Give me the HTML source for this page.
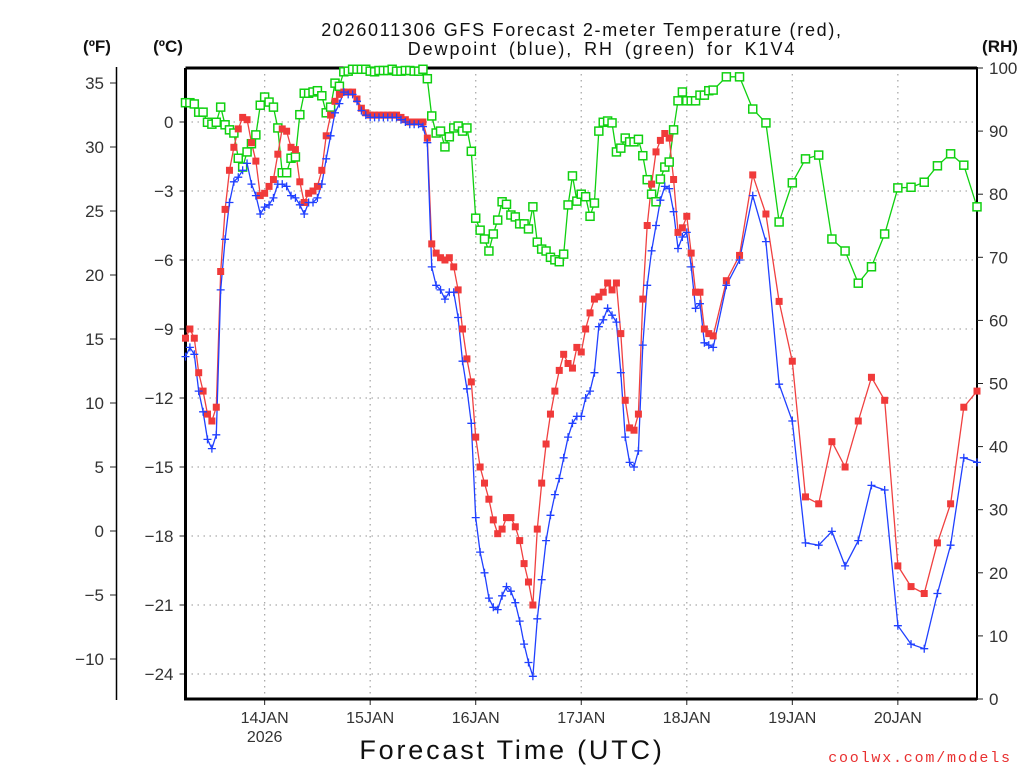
<!DOCTYPE html>
<html><head><meta charset="utf-8"><style>
html,body{margin:0;padding:0;background:#fff;}
svg{display:block;font-family:"Liberation Sans",sans-serif;}
</style></head><body>
<svg id="chart" width="1024" height="768" viewBox="0 0 1024 768" xmlns="http://www.w3.org/2000/svg">
<g id="grid"></g>
<g id="axes"></g>
<g id="series"></g>
<text x="582" y="36" text-anchor="middle" font-size="18" fill="#111" letter-spacing="1.7">2026011306 GFS Forecast 2-meter Temperature (red),</text>
<text x="602" y="55" text-anchor="middle" font-size="18" fill="#111" letter-spacing="1.9" word-spacing="4">Dewpoint (blue), RH (green) for K1V4</text>
<text x="97" y="52" text-anchor="middle" font-size="17" font-weight="bold" fill="#111">(ºF)</text>
<text x="168" y="52" text-anchor="middle" font-size="17" font-weight="bold" fill="#111">(ºC)</text>
<text x="1000" y="52" text-anchor="middle" font-size="17" font-weight="bold" fill="#111">(RH)</text>
<text x="512" y="759" text-anchor="middle" font-size="27" fill="#111" letter-spacing="2.8">Forecast Time (UTC)</text>
<text x="920" y="762" text-anchor="middle" font-size="15" fill="#e83030" font-family="Liberation Mono, monospace" letter-spacing="1.8">coolwx.com/models</text>
</svg>
<script>
const tempC = [-9.4,-9.0,-9.4,-10.9,-11.7,-12.7,-13.0,-12.4,-6.5,-3.8,-2.1,-1.1,-0.3,0.2,0.1,-0.9,-1.7,-3.2,-3.1,-2.8,-2.5,-1.4,-0.3,-0.4,-1.1,-1.2,-2.6,-3.5,-3.1,-3.0,-2.8,-2.1,-0.6,0.3,0.9,1.2,1.3,
1.3,1.3,1.0,0.6,0.4,0.3,0.3,0.3,0.3,0.3,0.3,0.3,0.2,0.1,0.0,0.0,0.0,0.0,
-0.7,-5.3,-5.7,-5.9,-6.0,-5.9,-6.3,-7.3,-9.0,-10.3,-11.3,-13.7,-15.0,-15.7,-16.4,-17.3,-17.9,-17.7,-17.2,-17.2,-17.6,-18.2,-19.2,-20.0,-21.0,-17.7,-15.7,-14.0,-12.7,-11.7,-10.8,-10.1,-10.5,-10.7,-9.8,-10.0,-9.0,-8.3,-7.7,-7.6,-7.4,-7.0,-7.3,-7.0,-9.2,-12.1,-13.3,-13.4,-12.7,-7.7,-4.5,-2.7,-1.3,-0.8,-0.5,-0.7,-2.5,-4.8,-4.6,-4.1,-5.7,-7.4,-7.4,-9.0,
-9.2,-9.3,
-6.9,-5.8,-2.3,-4.0,-7.8,-10.4,-16.3,-16.6,-13.9,-15.0,-13.0,-11.1,-12.1,-19.3,-20.2,-20.5,-18.3,-16.6,-12.4,-11.7];
const dewC = [-10.2,-9.8,-10.1,-11.7,-12.6,-13.8,-14.2,-13.6,-7.3,-5.1,-3.5,-2.6,-2.4,-2.1,-1.8,-2.7,-3.2,-4.0,-3.7,-3.6,-3.3,-2.7,-2.7,-2.8,-3.2,-3.3,-3.6,-4.0,-3.5,-3.5,-3.3,-2.7,-1.6,-0.6,0.4,0.8,1.3,
1.2,1.2,0.9,0.5,0.3,0.2,0.2,0.2,0.2,0.2,0.2,0.2,0.1,0.0,-0.1,-0.1,-0.1,-0.2,
-0.9,-6.3,-7.1,-7.3,-7.7,-7.4,-7.4,-8.5,-10.4,-11.6,-13.1,-17.2,-18.7,-19.6,-20.7,-21.1,-21.2,-20.6,-20.2,-20.4,-20.9,-21.7,-22.7,-23.5,-24.1,-21.6,-19.9,-18.2,-17.1,-16.2,-15.5,-14.6,-13.7,-13.1,-12.8,-12.8,-12.0,-11.7,-10.9,-8.9,-8.6,-8.1,-8.4,-8.7,-10.9,-13.7,-14.8,-15.0,-14.3,-9.7,-7.1,-5.6,-4.5,-3.4,-2.8,-2.9,-3.9,-5.5,-5.0,-4.8,-6.3,-8.1,-7.9,-9.6,
-9.7,-9.8,
-7.1,-6.0,-3.2,-5.2,-11.4,-13.0,-18.3,-18.4,-17.8,-19.3,-18.2,-15.8,-16.0,-21.9,-22.7,-22.9,-20.5,-18.4,-14.6,-14.8];
const rhPct = [94.5,94.5,94.3,93.0,93.0,91.4,91.1,91.4,93.8,91.0,90.2,89.7,85.7,84.3,86.7,88.0,89.4,94.1,95.4,94.6,93.8,90.5,83.4,83.4,85.7,85.9,92.6,96.0,96.0,96.2,96.4,95.6,92.9,93.8,97.6,97.1,99.4,
99.5,99.8,99.8,99.8,99.8,99.5,99.4,99.6,99.6,99.6,99.8,99.5,99.5,99.6,99.6,99.5,99.5,99.8,
98.3,92.4,89.7,90.0,87.5,89.1,90.5,90.8,90.0,90.5,86.8,76.2,74.3,72.9,71.0,73.7,75.9,78.8,78.4,76.7,76.4,75.3,75.3,74.5,78.0,72.4,71.3,71.0,70.0,69.6,69.3,70.5,78.3,82.9,78.9,80.0,79.6,76.5,78.6,90.0,91.4,91.6,91.3,86.7,87.3,88.9,88.3,88.3,88.7,86.1,82.3,80.0,78.8,82.4,84.3,85.1,90.2,94.8,96.2,94.8,94.8,94.8,95.7,95.7,
96.4,96.5,
98.6,98.6,93.5,91.3,75.6,81.8,85.6,86.2,72.9,71.0,65.9,68.5,73.7,81.0,81.1,81.9,84.5,86.4,84.6,78.0];
const fTicks = [35,30,25,20,15,10,5,0,-5,-10];
const cTicks = [0,-3,-6,-9,-12,-15,-18,-21,-24];
const rhTicks = [100,90,80,70,60,50,40,30,20,10,0];
const dayLabels = ["14JAN","15JAN","16JAN","17JAN","18JAN","19JAN","20JAN"];
const dayHours = [18,42,66,90,114,138,162];

const NS="http://www.w3.org/2000/svg";
const X0=185.5, X1=977, Y0=68, Y1=699;
const hours=[];
for(let h=0;h<=120;h++) hours.push(h);
for(let h=123;h<=180;h+=3) hours.push(h);
function xh(h){return X0+(X1-X0)*h/180;}
function yc(c){return 122-23*c;}
function yf(f){return 83+(35-f)*12.8;}
function yr(r){return Y1-(Y1-Y0)*r/100;}
function mk(tag,attrs,parent){const e=document.createElementNS(NS,tag);for(const k in attrs)e.setAttribute(k,attrs[k]);parent.appendChild(e);return e;}
const grid=document.getElementById('grid'), axes=document.getElementById('axes'), series=document.getElementById('series');
const txt="#333";
cTicks.forEach(c=>{const y=yc(c);
 const g=mk('line',{x1:X0,x2:X1,y1:y,y2:y,stroke:'#aaa','stroke-width':1.3,'stroke-dasharray':'1.5 4.5'},grid);
 
 
 mk('line',{x1:X0-6,x2:X0,y1:y,y2:y,stroke:'#222','stroke-width':1},axes);
 const t=mk('text',{x:X0-12,y:y+6,'text-anchor':'end','font-size':17,fill:txt},axes);
 t.textContent=(c<0?'\u2212'+(-c):c);
 
 
});
dayHours.forEach((h,i)=>{const x=xh(h);
 const g=mk('line',{x1:x,x2:x,y1:Y0,y2:Y1,stroke:'#aaa','stroke-width':1.3,'stroke-dasharray':'1.5 4.5'},grid);
 
 
 mk('line',{x1:x,x2:x,y1:Y1,y2:Y1+6,stroke:'#222','stroke-width':1},axes);
 const t=mk('text',{x:x,y:Y1+24,'text-anchor':'middle','font-size':16,fill:txt},axes);
 t.textContent=dayLabels[i];
 
 
});
const yr2=mk('text',{x:xh(dayHours[0]),y:Y1+43,'text-anchor':'middle','font-size':16,fill:txt},axes);
yr2.textContent='2026';


const fr=mk('path',{d:`M${X0},${Y0} H${X1} M${X0},${Y0} V${Y1} H${X1}`,stroke:'#000','stroke-width':3,fill:'none'},axes);


const ra=mk('line',{x1:X1,x2:X1,y1:Y0-1,y2:Y1+1,stroke:'#000','stroke-width':2},axes);


const fa=mk('line',{x1:116.5,x2:116.5,y1:67,y2:700,stroke:'#000','stroke-width':1.5},axes);


fTicks.forEach(f=>{const y=yf(f);
 mk('line',{x1:110,x2:116,y1:y,y2:y,stroke:'#222','stroke-width':1},axes);
 const t=mk('text',{x:104,y:y+6,'text-anchor':'end','font-size':17,fill:txt},axes);
 t.textContent=(f<0?'\u2212'+(-f):f);
 
 
});
rhTicks.forEach(r=>{const y=yr(r);
 mk('line',{x1:X1,x2:X1+6,y1:y,y2:y,stroke:'#222','stroke-width':1},axes);
 const t=mk('text',{x:989,y:y+6,'text-anchor':'start','font-size':17,fill:txt},axes);
 t.textContent=r;
 
 
});
function line(vals,yfn,color,name){
 const pts=vals.map((v,i)=>xh(hours[i]).toFixed(1)+','+yfn(v).toFixed(1)).join(' ');
 const p=mk('polyline',{points:pts,fill:'none',stroke:color,'stroke-width':1.3},series);
 
 
}
line(rhPct,yr,'#10d010','rh');
line(tempC,yc,'#f04040','temperature');
line(dewC,yc,'#2040ff','dewpoint');
rhPct.forEach((v,i)=>{const x=xh(hours[i]),y=yr(v);
 const r=mk('rect',{x:x-4,y:y-4,width:8,height:8,fill:'#fff',stroke:'#10d010','stroke-width':1.5},series);
 
 
});
tempC.forEach((v,i)=>{const x=xh(hours[i]),y=yc(v);
 const r=mk('rect',{x:x-3.5,y:y-3.5,width:7,height:7,fill:'#f03a3a'},series);
 
 
});
dewC.forEach((v,i)=>{const x=xh(hours[i]),y=yc(v);
 const p=mk('path',{d:`M${x-4},${y}H${x+4}M${x},${y-4}V${y+4}`,stroke:'#2040ff','stroke-width':1.3},series);
 
 
});
</script>
</body></html>
